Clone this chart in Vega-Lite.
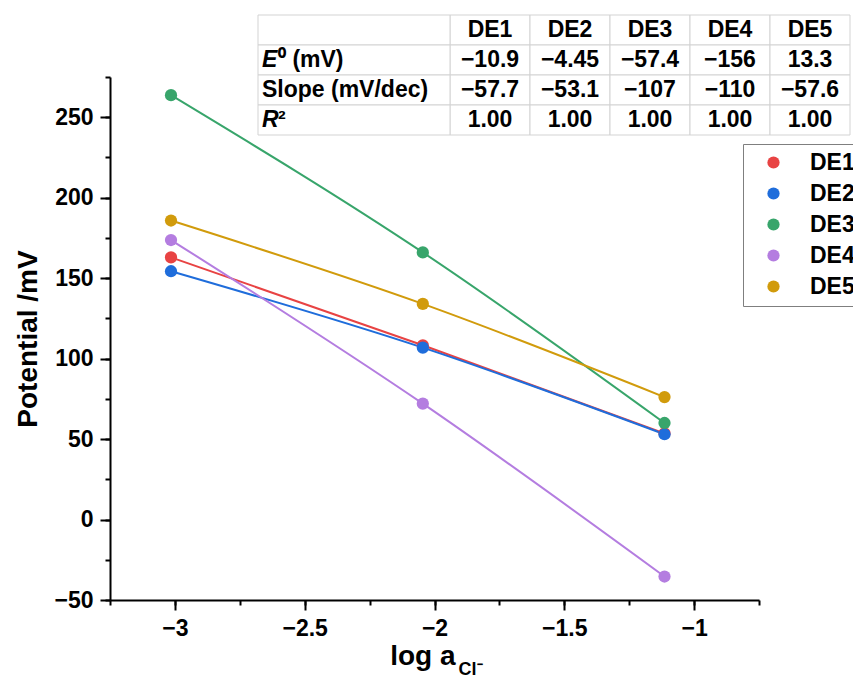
{
  "$schema": "https://vega.github.io/schema/vega-lite/v6.json",
  "width": 649,
  "height": 523,
  "autosize": {"type": "none"},
  "padding": {"left": 110, "top": 77, "right": 94, "bottom": 95},
  "background": "white",
  "config": {
    "font": "Liberation Sans",
    "view": {"stroke": null},
    "axis": {
      "labelFont": "Liberation Sans",
      "titleFont": "Liberation Sans",
      "domainColor": "black",
      "tickColor": "black",
      "labelColor": "black",
      "titleColor": "black",
      "domainWidth": 2,
      "tickWidth": 2,
      "grid": false,
      "labelFontWeight": "bold",
      "titleFontWeight": "bold",
      "labelFontSize": 23,
      "titleFontSize": 28
    },
    "legend": {
      "orient": "none",
      "legendX": 633,
      "legendY": 67,
      "symbolType": "circle",
      "symbolSize": 150,
      "symbolStrokeWidth": 0,
      "labelFontSize": 23,
      "labelFontWeight": "bold",
      "labelColor": "black",
      "labelFont": "Liberation Sans",
      "strokeColor": "#7f7f7f",
      "fillColor": "white",
      "padding": 7,
      "rowPadding": 7,
      "symbolOffset": 12,
      "labelOffset": 25
    }
  },
  "datasets": {
    "pts": [
      {"electrode": "DE1", "logA": -3.015, "E": 162.9},
      {"electrode": "DE1", "logA": -2.045, "E": 108.3},
      {"electrode": "DE1", "logA": -1.114, "E": 53.5},
      {"electrode": "DE2", "logA": -3.015, "E": 154.3},
      {"electrode": "DE2", "logA": -2.045, "E": 106.8},
      {"electrode": "DE2", "logA": -1.114, "E": 53.0},
      {"electrode": "DE3", "logA": -3.015, "E": 263.7},
      {"electrode": "DE3", "logA": -2.045, "E": 166.0},
      {"electrode": "DE3", "logA": -1.114, "E": 60.0},
      {"electrode": "DE4", "logA": -3.015, "E": 173.7},
      {"electrode": "DE4", "logA": -2.045, "E": 72.0},
      {"electrode": "DE4", "logA": -1.114, "E": -35.4},
      {"electrode": "DE5", "logA": -3.015, "E": 185.8},
      {"electrode": "DE5", "logA": -2.045, "E": 134.0},
      {"electrode": "DE5", "logA": -1.114, "E": 76.1}
    ],
    "tbl": [
      {"row": "hdr", "col": "L", "it": "", "text": ""},
      {"row": "hdr", "col": "DE1", "it": "", "text": "DE1"},
      {"row": "hdr", "col": "DE2", "it": "", "text": "DE2"},
      {"row": "hdr", "col": "DE3", "it": "", "text": "DE3"},
      {"row": "hdr", "col": "DE4", "it": "", "text": "DE4"},
      {"row": "hdr", "col": "DE5", "it": "", "text": "DE5"},
      {"row": "E0", "col": "L", "it": "E", "text": "⁰ (mV)"},
      {"row": "E0", "col": "DE1", "it": "", "text": "−10.9"},
      {"row": "E0", "col": "DE2", "it": "", "text": "−4.45"},
      {"row": "E0", "col": "DE3", "it": "", "text": "−57.4"},
      {"row": "E0", "col": "DE4", "it": "", "text": "−156"},
      {"row": "E0", "col": "DE5", "it": "", "text": "13.3"},
      {"row": "slope", "col": "L", "it": "", "text": "Slope (mV/dec)"},
      {"row": "slope", "col": "DE1", "it": "", "text": "−57.7"},
      {"row": "slope", "col": "DE2", "it": "", "text": "−53.1"},
      {"row": "slope", "col": "DE3", "it": "", "text": "−107"},
      {"row": "slope", "col": "DE4", "it": "", "text": "−110"},
      {"row": "slope", "col": "DE5", "it": "", "text": "−57.6"},
      {"row": "R2", "col": "L", "it": "R", "text": "²"},
      {"row": "R2", "col": "DE1", "it": "", "text": "1.00"},
      {"row": "R2", "col": "DE2", "it": "", "text": "1.00"},
      {"row": "R2", "col": "DE3", "it": "", "text": "1.00"},
      {"row": "R2", "col": "DE4", "it": "", "text": "1.00"},
      {"row": "R2", "col": "DE5", "it": "", "text": "1.00"}
    ]
  },
  "layer": [
    {
      "data": {"name": "pts"},
      "layer": [
        {
          "mark": {"type": "line", "interpolate": "monotone", "strokeWidth": 2},
          "encoding": {
            "x": {
              "field": "logA", "type": "quantitative",
              "scale": {"domain": [-3.25, -0.75], "nice": false, "zero": false},
              "axis": {
                "orient": "bottom",
                "values": [-3, -2.5, -2, -1.5, -1],
                "format": "~g",
                "tickSize": 10,
                "labelPadding": 7,
                "title": "log a",
                "titleX": 345,
                "titleY": 64,
                "titleAlign": "right",
                "titleBaseline": "alphabetic"
              }
            },
            "y": {
              "field": "E", "type": "quantitative",
              "scale": {"domain": [-50, 275], "nice": false, "zero": false},
              "axis": {
                "orient": "left",
                "values": [-50, 0, 50, 100, 150, 200, 250],
                "format": "d",
                "tickSize": 10,
                "labelPadding": 7,
                "title": "Potential /mV",
                "titlePadding": 11
              }
            },
            "color": {
              "field": "electrode", "type": "nominal",
              "scale": {"domain": ["DE1", "DE2", "DE3", "DE4", "DE5"], "range": ["#e84343", "#1f6ddb", "#38a56b", "#b47de0", "#d19b0c"]},
              "legend": {"title": null}
            }
          }
        },
        {
          "mark": {"type": "point", "filled": true, "size": 150, "opacity": 1},
          "encoding": {
            "x": {"field": "logA", "type": "quantitative", "scale": {"domain": [-3.25, -0.75], "nice": false, "zero": false}, "axis": null},
            "y": {"field": "E", "type": "quantitative", "scale": {"domain": [-50, 275], "nice": false, "zero": false}, "axis": null},
            "color": {
              "field": "electrode", "type": "nominal",
              "scale": {"domain": ["DE1", "DE2", "DE3", "DE4", "DE5"], "range": ["#e84343", "#1f6ddb", "#38a56b", "#b47de0", "#d19b0c"]},
              "legend": {"title": null}
            }
          }
        },
        {
          "mark": {"type": "point", "opacity": 0},
          "encoding": {
            "x": {
              "field": "logA", "type": "quantitative",
              "scale": {"domain": [-3.25, -0.75], "nice": false, "zero": false},
              "axis": {"orient": "bottom", "values": [-3.25, -3, -2.75, -2.5, -2.25, -2, -1.75, -1.5, -1.25, -1, -0.75], "labels": false, "domain": false, "tickSize": 5, "title": null}
            },
            "y": {
              "field": "E", "type": "quantitative",
              "scale": {"domain": [-50, 275], "nice": false, "zero": false},
              "axis": {"orient": "left", "values": [-50, -25, 0, 25, 50, 75, 100, 125, 150, 175, 200, 225, 250, 275], "labels": false, "domain": false, "tickSize": 5, "title": null}
            }
          }
        }
      ],
      "resolve": {"axis": {"x": "independent", "y": "independent"}}
    },
    {
      "data": {"name": "tbl"},
      "encoding": {
        "x": {
          "field": "col", "type": "nominal",
          "scale": {"type": "band", "domain": ["L", "DE1", "DE2", "DE3", "DE4", "DE5"], "range": [260, 740], "paddingInner": 0, "paddingOuter": 0},
          "axis": {
            "orient": "bottom",
            "domain": false,
            "ticks": false,
            "labels": false,
            "title": "Cl⁻",
            "titleFontSize": 18,
            "titleX": 348,
            "titleY": 74,
            "titleAlign": "left",
            "titleBaseline": "alphabetic"
          }
        },
        "y": {
          "field": "row", "type": "nominal",
          "scale": {"type": "band", "domain": ["hdr", "E0", "slope", "R2"], "range": [-62, 58], "paddingInner": 0, "paddingOuter": 0},
          "axis": null
        }
      },
      "layer": [
        {
          "transform": [{"filter": "datum.col !== 'L'"}],
          "mark": {"type": "rect", "fill": "white", "stroke": "#d3d3d3", "strokeWidth": 1}
        },
        {
          "transform": [{"filter": "datum.col === 'L'"}],
          "mark": {"type": "rect", "fill": "white", "stroke": "#d3d3d3", "strokeWidth": 1, "width": 192, "xOffset": -56}
        },
        {
          "transform": [{"filter": "datum.col !== 'L'"}],
          "mark": {"type": "text", "fontSize": 23, "fontWeight": "bold", "color": "black", "baseline": "middle", "font": "Liberation Sans"},
          "encoding": {"text": {"field": "text"}}
        },
        {
          "transform": [{"filter": "datum.col === 'L' && datum.it === ''"}],
          "mark": {"type": "text", "fontSize": 23, "fontWeight": "bold", "color": "black", "baseline": "middle", "align": "left", "dx": -148, "font": "Liberation Sans"},
          "encoding": {"text": {"field": "text"}}
        },
        {
          "transform": [{"filter": "datum.col === 'L' && datum.it !== ''"}],
          "mark": {"type": "text", "fontSize": 23, "fontWeight": "bold", "fontStyle": "italic", "color": "black", "baseline": "middle", "align": "left", "dx": -148, "font": "Liberation Sans"},
          "encoding": {"text": {"field": "it"}}
        },
        {
          "transform": [{"filter": "datum.col === 'L' && datum.it !== ''"}],
          "mark": {"type": "text", "fontSize": 23, "fontWeight": "bold", "color": "black", "baseline": "middle", "align": "left", "dx": -132, "font": "Liberation Sans"},
          "encoding": {"text": {"field": "text"}}
        }
      ]
    }
  ],
  "resolve": {"scale": {"x": "independent", "y": "independent"}, "axis": {"x": "independent", "y": "independent"}}
}
